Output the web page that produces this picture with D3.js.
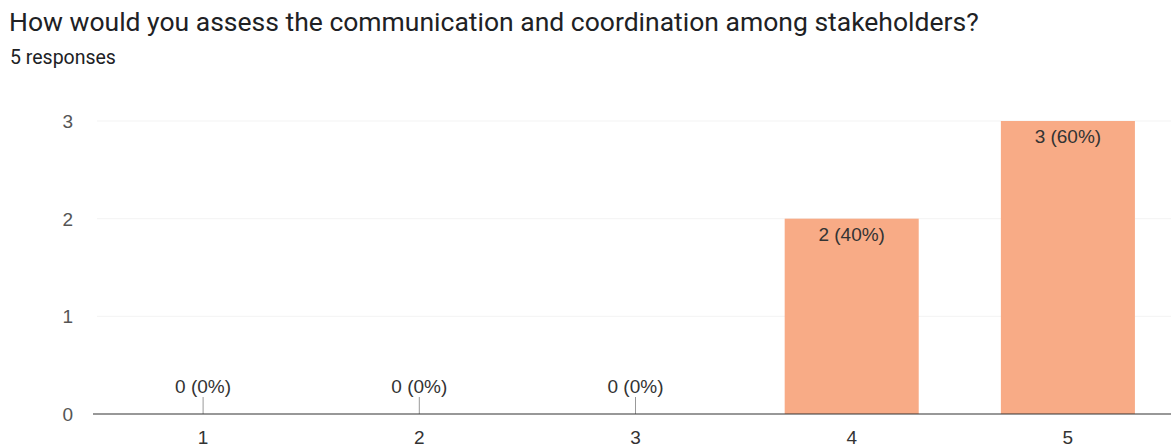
<!DOCTYPE html>
<html>
<head>
<meta charset="utf-8">
<script src="https://cdn.jsdelivr.net/npm/d3@7"></script>
<style>
  body { margin: 0; background: #fff; font-family: Roboto, Arial, sans-serif; }
</style>
</head>
<body>
<div id="chart"></div>
<script>
let categories = ["1", "2", "3", "4", "5"];
let counts = [0, 0, 0, 2, 3];
let percents = ["0%", "0%", "0%", "40%", "60%"];
let yTicks = [0, 1, 2, 3];

let width = 1171, height = 447;
let margin = {top: 121, right: -5, bottom: 33, left: 95};
let labelFont = "Arial, 'Liberation Sans', sans-serif";

let svg = d3.select("#chart")
    .append("svg")
    .attr("width", width)
    .attr("height", height);

// title
svg.append("text")
    .attr("x", 9).attr("y", 31)
    .attr("font-size", 26.5).attr("fill", "#202124")
    .text("How would you assess the communication and coordination among stakeholders?");
svg.append("text")
    .attr("x", 10).attr("y", 64)
    .attr("font-size", 19.5).attr("fill", "#202124")
    .text("5 responses");

let x = d3.scaleBand()
    .domain(categories)
    .range([margin.left, width - margin.right])
    .paddingInner(0.38)
    .paddingOuter(0.19);

let y = d3.scaleLinear()
    .domain([0, 3])
    .range([height - margin.bottom, margin.top]);

// gridlines
svg.selectAll(".grid")
    .data(yTicks.filter(d => d > 0))
    .enter()
    .append("line")
    .attr("class", "grid")
    .attr("x1", 97).attr("x2", width)
    .attr("y1", d => y(d)).attr("y2", d => y(d))
    .attr("stroke", "#f3f3f3");

// y labels
svg.selectAll(".ylab")
    .data(yTicks)
    .enter()
    .append("text")
    .attr("class", "ylab")
    .attr("x", 73)
    .attr("y", d => y(d) + 7)
    .attr("text-anchor", "end")
    .attr("font-family", labelFont)
    .attr("font-size", 19)
    .attr("fill", "#555")
    .text(d => d);

// bars
svg.selectAll(".bar")
    .data(categories)
    .enter()
    .append("rect")
    .attr("class", "bar")
    .attr("x", d => x(d))
    .attr("width", x.bandwidth())
    .attr("y", (d, i) => y(counts[i]))
    .attr("height", (d, i) => y(0) - y(counts[i]))
    .attr("fill", "#f8ab86");

// zero stubs
svg.selectAll(".stub")
    .data(categories.filter((d, i) => counts[i] === 0))
    .enter()
    .append("line")
    .attr("class", "stub")
    .attr("x1", d => x(d) + x.bandwidth() / 2)
    .attr("x2", d => x(d) + x.bandwidth() / 2)
    .attr("y1", y(0) - 17).attr("y2", y(0))
    .attr("stroke", "#999");

// baseline
svg.append("line")
    .attr("x1", 93).attr("x2", width)
    .attr("y1", y(0)).attr("y2", y(0))
    .attr("stroke", "#333").attr("stroke-width", 1.2);

// value labels
svg.selectAll(".vlab")
    .data(categories)
    .enter()
    .append("text")
    .attr("class", "vlab")
    .attr("x", d => x(d) + x.bandwidth() / 2)
    .attr("y", (d, i) => counts[i] === 0 ? y(0) - 21 : y(counts[i]) + 22)
    .attr("text-anchor", "middle")
    .attr("font-family", labelFont)
    .attr("font-size", 19)
    .attr("fill", "#333")
    .text((d, i) => counts[i] + " (" + percents[i] + ")");

// x labels
svg.selectAll(".xlab")
    .data(categories)
    .enter()
    .append("text")
    .attr("class", "xlab")
    .attr("x", d => x(d) + x.bandwidth() / 2)
    .attr("y", y(0) + 30)
    .attr("text-anchor", "middle")
    .attr("font-family", labelFont)
    .attr("font-size", 19)
    .attr("fill", "#333")
    .text(d => d);
</script>
</body>
</html>
